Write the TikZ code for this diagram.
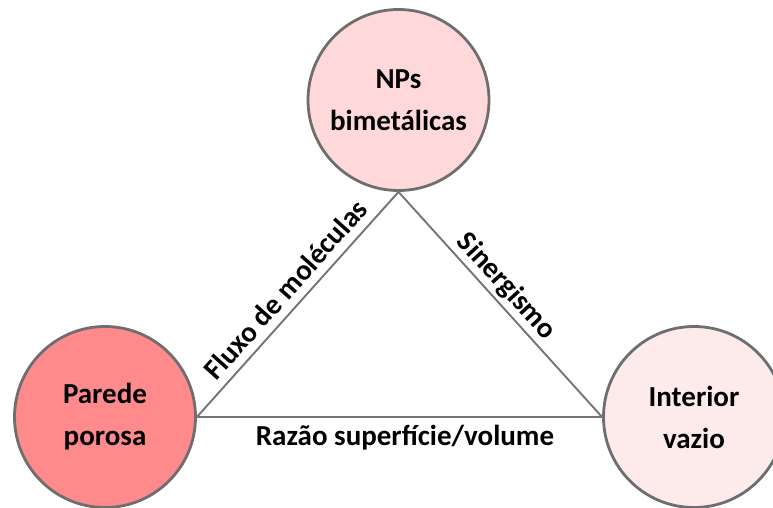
\documentclass[tikz,border=0pt]{standalone}
\usepackage{fontspec}
\setmainfont{Carlito}
\definecolor{edgegray}{HTML}{6E6E6E}
\definecolor{linegray}{HTML}{747474}
\definecolor{toppink}{HTML}{FFD9DA}
\definecolor{leftred}{HTML}{FF8A8B}
\definecolor{rightpink}{HTML}{FDEBEB}
\tikzset{
  bubble/.style={circle, draw=edgegray, line width=2.8pt, minimum size=181pt, inner sep=0pt,
    align=center, font={\bfseries\fontsize{29}{42}\selectfont}},
  link/.style={draw=linegray, line width=1.9pt},
  lbl/.style={font={\bfseries\fontsize{29}{32}\selectfont}, inner sep=0pt, anchor=base}
}
\begin{document}
\begin{tikzpicture}[x=1pt,y=1pt]
\useasboundingbox (0,0) rectangle (773,507);
\node[bubble, fill=toppink] (top) at (398.5,407) {NPs\\bimetálicas};
\node[bubble, fill=leftred] (left) at (105,90) {Parede\\porosa};
\node[bubble, fill=rightpink] (right) at (694,90) {Interior\\vazio};
\draw[link] (top.south) -- (left.east) -- (right.west) -- cycle;
\node[lbl, rotate=48.2] (fluxo) at (293,210.9) {Fluxo de moléculas};
\node[lbl, rotate=-47.7] (sin) at (500.6,215.1) {Sinergismo};
\node[lbl] (razao) at (405,62) {Razão superfície/volume};
\end{tikzpicture}
\end{document}
